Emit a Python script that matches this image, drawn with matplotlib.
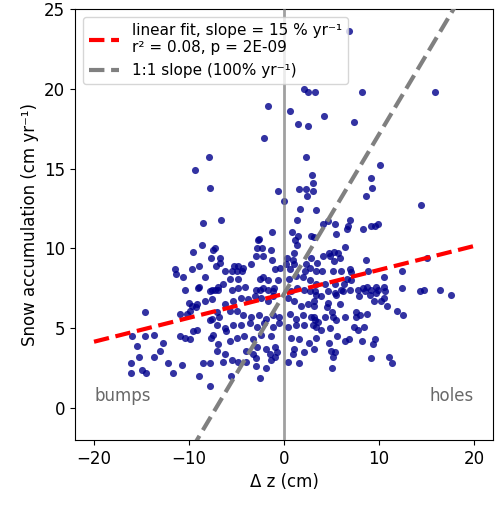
import matplotlib
matplotlib.use('Agg')
import matplotlib.pyplot as plt
import numpy as np

# elevation change (cm) and snow accumulation (cm/yr)
dz = [-7.9, -9.4, -7.8, -8.5, -8.6, -9.6, -7.5, -7.7, -9.0, -9.7, -11.5,
      6.8, 2.1, 2.5, 3.3, 8.2, 15.9, -1.7, 0.6, 4.2, 1.5, 2.5, 7.4, -2.1, 2.3, 10.1, 2.9, 9.2, 3.1, 9.3,
      -0.6, 1.6, 2.3, 3.0, 2.4, 0.0, 1.7, 3.4, -6.6, 1.4, -1.3, 0.8, -2.6, 1.5, 3.2, 1.2, -2.7, 1.4,
      -7.3, -2.8, -2.3, -1.4, 2.8, 1.0, -6.7, -2.9, -2.2, -1.3, 0.3, 0.9, 2.8, -7.2, -6.7, -5.3, -4.8,
      -4.3, -3.5, 0.2, 1.0, 2.3, 2.7, 3.5, -6.2, -5.5, -5.0, -4.4, -0.9, -0.4, 0.6, 2.2, -5.7, -4.8,
      -2.2, -2.5, -1.7, -0.6, 0.5, 1.3, 2.0, 2.7, -6.4, -6.9, -7.3, -6.9, -7.6, -5.5, -4.8, -4.1, -3.0,
      -2.5, -2.2, -1.7, -1.1, 0.7, 1.4, 2.1, 2.7, 3.3, -1.2,
      8.6, 14.4, 6.9, 4.6, 4.1, 5.4, 6.7, 9.2, 9.6, 9.9, 6.6, 8.3, 5.5, 6.4, 4.7, 5.3, 5.7, 4.1, 4.8,
      5.9, 5.3, 8.6, 3.4, 4.0, 5.2, 6.0, 6.9, 7.0, 8.8, 12.4, 6.6, 10.5, 3.4, 4.3, 5.4, 6.3, 7.1, 4.6,
      5.4, 6.0, 6.9, 7.8, 8.3, 8.7, 9.2, 9.7, 9.9, 10.5, 10.6, 12.4, 14.3, 8.5,
      15.0, 14.7, 16.4, 17.6,
      -11.4, -10.6, -8.3, -10.4, -9.1, -9.0, -7.8, -10.0, -9.7, -9.2, -8.3, -7.6, -14.6, -11.0, -10.2,
      -9.9, -9.3, -7.8, -16.0, -14.6, -13.7, -11.0, -10.4, -9.9, -9.6, -9.2, -12.7, -15.5, -7.7, -13.1,
      -13.7, -15.3, -16.1, -14.9, -14.5, -16.1, -12.2, -11.7, -10.7, -8.5, -7.8, -9.0, -7.8,
      -6.2, -5.4, -4.5, -3.8, -2.4, -1.7, -3.1, -1.2, 0.4, 1.1, 1.8, 2.5, 3.2, -7.1, -7.6, -6.8, -5.7,
      -5.0, -4.3, -3.5, -2.6, -1.9, -1.2, -0.5, 0.6, 1.3, 2.0, 2.8, 3.3, -7.1, -6.2, -5.4, -4.5, -3.6,
      -2.8, -2.1, -1.2, -0.5, 0.4, 1.3, 2.1, 3.0, -7.5, -6.1, -5.0, -4.2, -3.3, -2.4, -1.4, 0.7, 1.6,
      2.6, -6.9, -5.7, -2.8, -1.9, -1.0, 1.1, -7.1, -6.2, -4.0, -3.3, -1.5, -0.7, 0.9, 2.1, -6.4, -5.5,
      -4.8, -4.0, -2.9, -1.4, -1.0, 0.4, 1.6, -2.9, -1.9, -5.6, -2.5,
      3.4, 3.9, 5.5, 6.2, 7.9, 9.0, 9.7, 10.5, 9.5, 10.2, 10.8, 4.6, 5.9, 3.2, 4.5, 5.0, 7.6, 8.7, 11.9,
      12.5, 3.2, 4.3, 5.2, 5.5, 6.4, 7.6, 8.0, 3.6, 3.4, 3.9, 4.8, 7.4, 7.8, 8.4, 5.6, 3.4, 4.7, 6.4,
      6.8, 8.2, 9.4, 9.6, 3.2, 4.9, 5.4, 5.2, 9.2, 11.0, 11.4, 5.0]

accum = [15.7, 14.9, 13.8, 11.6, 10.2, 9.8, 9.9, 9.4, 8.9, 8.7, 8.7,
         23.6, 20.0, 19.8, 19.8, 19.8, 19.8, 18.9, 18.6, 18.3, 17.8, 17.7, 17.9, 16.9, 15.7, 15.2, 14.6, 14.4, 14.1, 13.8,
         13.6, 13.7, 13.7, 13.6, 13.3, 13.0, 12.5, 12.4, 11.8, 11.8, 11.0, 11.0, 10.6, 10.8, 10.7, 10.5, 10.5, 10.2,
         10.0, 10.0, 10.0, 9.9, 10.8, 9.7, 9.4, 9.5, 9.5, 9.3, 9.4, 9.3, 9.4, 8.9, 9.1, 8.9, 8.9,
         8.8, 9.0, 9.0, 9.0, 9.0, 8.8, 9.1, 8.6, 8.6, 8.6, 8.6, 8.7, 8.8, 8.7, 8.6, 8.1, 8.1,
         8.2, 8.1, 8.0, 8.0, 8.1, 8.3, 8.2, 8.0, 7.8, 7.6, 7.4, 7.4, 7.4, 7.4, 7.5, 7.6, 7.4,
         7.4, 7.5, 7.4, 7.5, 7.3, 7.5, 7.4, 7.3, 7.3, 7.3,
         13.3, 12.7, 11.8, 11.7, 11.5, 11.5, 11.4, 11.4, 11.4, 11.5, 11.2, 11.2, 10.9, 10.1, 9.7, 9.8, 9.7, 9.5, 9.5,
         9.4, 9.2, 9.3, 8.6, 8.6, 8.6, 8.6, 8.7, 8.5, 8.6, 8.6, 8.1, 8.2, 7.8, 7.8, 7.8, 7.8, 8.0, 7.3,
         7.2, 7.4, 7.4, 7.4, 7.5, 7.6, 7.4, 7.6, 7.4, 7.6, 7.3, 7.5, 7.3, 7.3,
         9.4, 7.4, 7.4, 7.1,
         8.4, 8.2, 8.2, 7.4, 7.5, 7.6, 7.3, 6.6, 6.4, 6.5, 6.7, 6.8, 6.0, 5.9, 5.9,
         6.1, 6.3, 5.5, 4.5, 4.5, 4.6, 4.5, 4.4, 4.3, 4.8, 4.9, 4.1, 3.9, 4.4, 3.6,
         3.2, 3.2, 2.8, 2.4, 2.2, 2.2, 2.8, 2.2, 2.7, 2.8, 2.8, 2.0, 1.4,
         6.5, 6.7, 6.9, 6.8, 6.9, 6.7, 7.0, 7.0, 6.9, 6.7, 6.4, 6.5, 6.7, 6.0, 5.6, 5.7, 6.1,
         6.1, 5.8, 5.7, 5.8, 5.6, 5.8, 5.7, 5.9, 5.6, 5.8, 5.7, 5.5, 5.2, 5.0, 5.2, 5.2, 5.3,
         5.1, 5.3, 5.1, 5.3, 5.1, 5.2, 5.2, 5.2, 4.6, 4.8, 4.4, 4.5, 4.3, 4.6, 4.5, 4.4, 4.3,
         4.1, 4.0, 4.2, 3.8, 3.7, 3.8, 3.7, 3.6, 3.4, 3.6, 3.4, 3.4, 3.5, 3.4, 3.5, 2.9, 3.0,
         2.9, 2.9, 3.1, 3.0, 3.2, 2.9, 2.8, 2.6, 2.5, 2.0, 1.9,
         7.1, 7.0, 7.1, 7.3, 7.0, 7.1, 7.2, 6.9, 6.7, 6.7, 6.4, 6.6, 6.5, 6.4, 6.3, 6.0, 6.0, 5.9, 6.1,
         5.8, 5.7, 5.7, 5.7, 5.5, 5.7, 5.7, 5.8, 5.4, 5.1, 4.9, 5.0, 5.1, 4.9, 5.1, 4.5, 4.4, 4.1, 4.2,
         4.3, 4.2, 4.0, 4.3, 3.7, 3.6, 3.5, 3.2, 3.1, 3.2, 2.8, 2.5]

# fit as given in the legend
fit_slope = 0.15
fit_intercept = 7.15
fit_range = [-20, 20]

fig = plt.figure(figsize=(5, 5.05), dpi=100)
ax = fig.add_axes([0.15, 0.129, 0.836, 0.853])

ax.scatter(dz, accum, s=26, color='darkblue', alpha=0.8, linewidths=0, zorder=2)

ax.axvline(0, color='gray', alpha=0.75, lw=2, zorder=3)

xf = np.array(fit_range)
ax.plot(xf, fit_slope * xf + fit_intercept, color='red', ls='--', lw=3, zorder=4,
        label='linear fit, slope = 15 % yr⁻¹\nr² = 0.08, p = 2E-09')
x11 = np.array([-22, 22])
ax.plot(x11, x11 + fit_intercept, color='gray', ls='--', lw=3, zorder=4,
        label='1:1 slope (100% yr⁻¹)')

ax.text(-20, 0.2, 'bumps', color='dimgray', fontsize=12, ha='left', va='bottom')
ax.text(20, 0.2, 'holes', color='dimgray', fontsize=12, ha='right', va='bottom')

ax.set_xlim(-22, 22)
ax.set_ylim(-2, 25)
ax.set_xticks([-20, -10, 0, 10, 20])
ax.set_yticks([0, 5, 10, 15, 20, 25])
ax.tick_params(labelsize=12)
ax.set_xlabel('Δ z (cm)', fontsize=12)
ax.set_ylabel('Snow accumulation (cm yr⁻¹)', fontsize=12)
ax.legend(loc='upper left', fontsize=11, handlelength=2)

fig.savefig('out.png', dpi=100)
